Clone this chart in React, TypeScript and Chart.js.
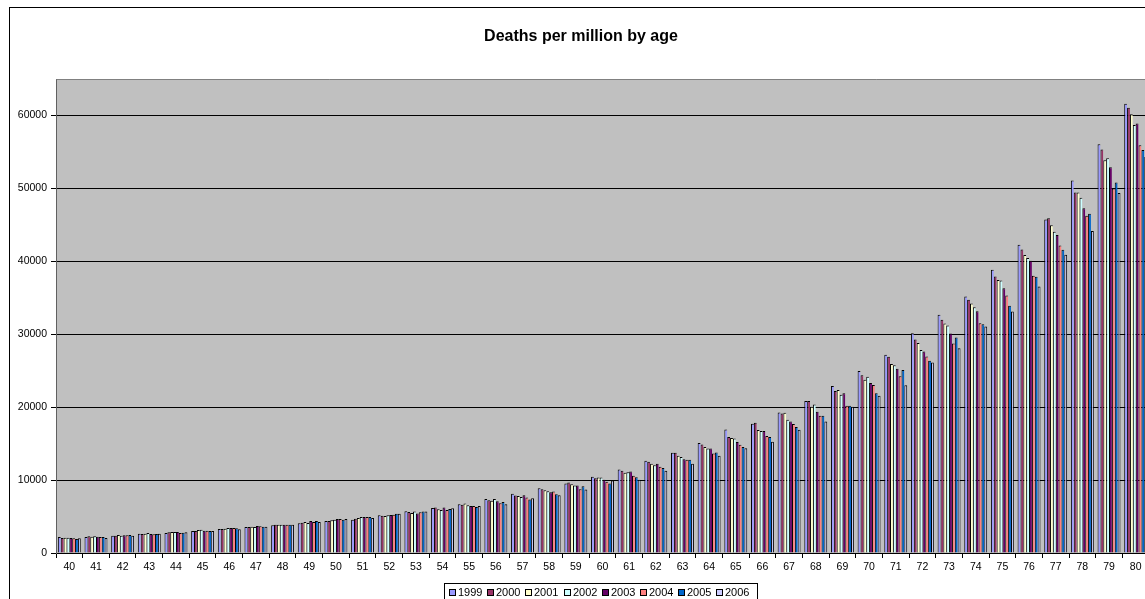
import React, { useEffect, useRef } from 'react';
import { Chart, registerables } from 'chart.js';

Chart.register(...registerables);

const titleText = 'Deaths per million by age';
const ages = ['40','41','42','43','44','45','46','47','48','49','50','51','52','53','54','55','56','57','58','59','60','61','62','63','64','65','66','67','68','69','70','71','72','73','74','75','76','77','78','79','80'];
const years = ['1999','2000','2001','2002','2003','2004','2005','2006'];
const colors = ['#9999FF','#993366','#FFFFCC','#CCFFFF','#660066','#FF8080','#0066CC','#CCCCFF'];
const yTicks = [0, 10000, 20000, 30000, 40000, 50000, 60000];
const yMax = 65000;

const s1999 = [2190,2190,2380,2650,2740,3020,3290,3560,3790,4070,4390,4570,5160,5730,6180,6690,7420,8110,8890,9520,10440,11450,12640,13740,15070,16950,17720,19280,20840,22900,24960,27200,30130,32660,35170,38840,42280,45750,51070,56060,61600];
const s2000 = [2060,2290,2380,2600,2830,3020,3290,3560,3880,4160,4390,4710,5120,5630,6230,6600,7240,7870,8750,9660,10260,11270,12500,13740,14880,15900,17860,19140,20840,22220,24370,26900,29270,31970,34720,37920,41630,45890,49420,55330,61050];
const s2001 = [2100,2240,2470,2650,2880,3150,3340,3610,3880,4250,4480,4800,5070,5500,6000,6780,7150,7830,8610,9430,10350,10990,12230,13330,14520,15760,16860,19240,20060,22350,23770,25930,28810,31460,34210,37420,40850,44930,49420,53860,60180];
const s2002 = [2100,2290,2380,2740,2880,3200,3430,3560,3880,4110,4570,4940,5160,5680,5910,6550,7420,7690,8470,9250,10350,11090,12050,13150,14330,15700,16720,18270,20380,21710,24180,25740,27850,31190,33710,37370,40440,44060,48730,54140,58700];
const s2003 = [2060,2240,2420,2600,2880,3060,3430,3700,3880,4390,4660,4940,5210,5400,6230,6460,7100,7930,8340,9250,10030,11170,12230,12870,14330,15210,16720,18040,19370,21890,23310,25260,27620,30090,33160,36320,40080,43600,47260,52900,58900];
const s2004 = [2010,2190,2420,2560,2740,3060,3430,3660,3880,4250,4660,4940,5260,5590,5910,6460,6830,7600,8430,8750,9760,10580,11820,12780,13640,14840,16030,17680,18820,20200,23040,24230,26930,28720,31510,35310,38020,42180,46260,49970,55920];
const s2005 = [1920,2190,2470,2600,2790,3020,3380,3610,3880,4390,4570,4940,5390,5680,6050,6320,7010,7320,8070,9160,9520,10400,11640,12780,13780,14520,15900,17270,18820,20200,21890,25100,26380,29540,31370,33900,37880,41590,46530,50800,55280];
const s2006 = [2010,2060,2380,2650,2830,3020,3240,3610,3880,4250,4660,4800,5390,5680,6140,6460,6690,7520,7930,8700,9930,10030,11270,12230,13330,14380,15250,16900,18040,20060,21570,23000,26110,28070,31050,33120,36550,40900,44150,49370,54300];

const seriesValues = [s1999, s2000, s2001, s2002, s2003, s2004, s2005, s2006];

const FONT = '"Liberation Sans", Arial, sans-serif';

const decorPlugin = {
  id: 'decor',
  beforeDraw(chart: any) {
    const { ctx, chartArea } = chart;
    ctx.save();
    ctx.fillStyle = '#FFFFFF';
    ctx.fillRect(0, 0, chart.width, chart.height);
    ctx.fillStyle = '#C0C0C0';
    ctx.fillRect(chartArea.left, chartArea.top, chartArea.right - chartArea.left, chartArea.bottom - chartArea.top);
    ctx.restore();
  },
  afterDraw(chart: any) {
    const { ctx, chartArea } = chart;
    ctx.save();
    ctx.strokeStyle = '#808080';
    ctx.lineWidth = 1;
    ctx.beginPath();
    ctx.moveTo(Math.round(chartArea.left) + 0.5, Math.round(chartArea.top) + 0.5);
    ctx.lineTo(Math.round(chartArea.right) + 0.5, Math.round(chartArea.top) + 0.5);
    ctx.lineTo(Math.round(chartArea.right) + 0.5, Math.round(chartArea.bottom) + 0.5);
    ctx.stroke();

    ctx.fillStyle = '#000';
    ctx.font = 'bold 16px ' + FONT;
    ctx.textAlign = 'center';
    ctx.textBaseline = 'middle';
    ctx.fillText(titleText, 571, 29);

    const lx = 434, ly = 575, lw = 313, lh = 24;
    ctx.strokeStyle = '#000';
    ctx.strokeRect(lx + 0.5, ly + 0.5, lw, lh);
    ctx.font = '11px ' + FONT;
    ctx.textAlign = 'left';
    ctx.textBaseline = 'middle';
    const cy = ly + 10;
    years.forEach((yr, i) => {
      const x0 = lx + 5 + i * 38.2;
      ctx.fillStyle = colors[i];
      ctx.fillRect(Math.round(x0) + 0.5, cy - 3.5, 6, 6);
      ctx.strokeStyle = '#000';
      ctx.strokeRect(Math.round(x0) + 0.5, cy - 3.5, 6, 6);
      ctx.fillStyle = '#000';
      ctx.fillText(yr, Math.round(x0) + 9, cy);
    });
    ctx.restore();
  },
};

export default function App() {
  const ref = useRef<HTMLCanvasElement | null>(null);

  useEffect(() => {
    if (!ref.current) return;
    const chart = new Chart(ref.current, {
      type: 'bar',
      data: {
        labels: ages,
        datasets: years.map((yr, i) => ({
          label: yr,
          data: seriesValues[i],
          backgroundColor: colors[i],
          borderColor: '#000000',
          borderWidth: { left: 1, top: 1, right: i === years.length - 1 ? 1 : 0, bottom: 0 },
          borderSkipped: false,
          categoryPercentage: 0.86,
          barPercentage: 1.0,
        })),
      },
      options: {
        animation: false,
        responsive: false,
        devicePixelRatio: 1,
        layout: { padding: { top: 71, right: 21, left: 0, bottom: 0 } },
        plugins: {
          legend: { display: false },
          title: { display: false },
          tooltip: { enabled: false },
        },
        scales: {
          x: {
            type: 'category',
            offset: true,
            grid: {
              offset: true,
              drawOnChartArea: false,
              drawTicks: true,
              tickLength: 5,
              color: '#000000',
            },
            border: { display: true, color: '#000000' },
            ticks: {
              autoSkip: false,
              maxRotation: 0,
              minRotation: 0,
              padding: 3,
              color: '#000000',
              font: { family: FONT, size: 10.5 },
            },
            afterFit(scale: any) {
              scale.height = 55;
            },
          },
          y: {
            min: 0,
            max: yMax,
            grid: {
              color: '#000000',
              tickLength: 5,
              drawTicks: true,
            },
            border: { display: true, color: '#606060' },
            ticks: {
              padding: 4,
              color: '#000000',
              font: { family: FONT, size: 10.5 },
              callback: (v: any) => String(v),
            },
            afterBuildTicks(scale: any) {
              scale.ticks = yTicks.map((v) => ({ value: v }));
            },
            afterFit(scale: any) {
              scale.width = 46;
            },
          },
        },
      },
      plugins: [decorPlugin],
    });
    return () => chart.destroy();
  }, []);

  return (
    <div style={{ position: 'fixed', left: 0, top: 0, width: 1145, height: 599, overflow: 'hidden', background: '#fff' }}>
      <div style={{ position: 'absolute', left: 9, top: 7, width: 1160, height: 600, border: '1px solid #000', background: '#fff' }}>
        <canvas ref={ref} width={1160} height={600} style={{ display: 'block', width: 1160, height: 600 }} />
      </div>
    </div>
  );
}
